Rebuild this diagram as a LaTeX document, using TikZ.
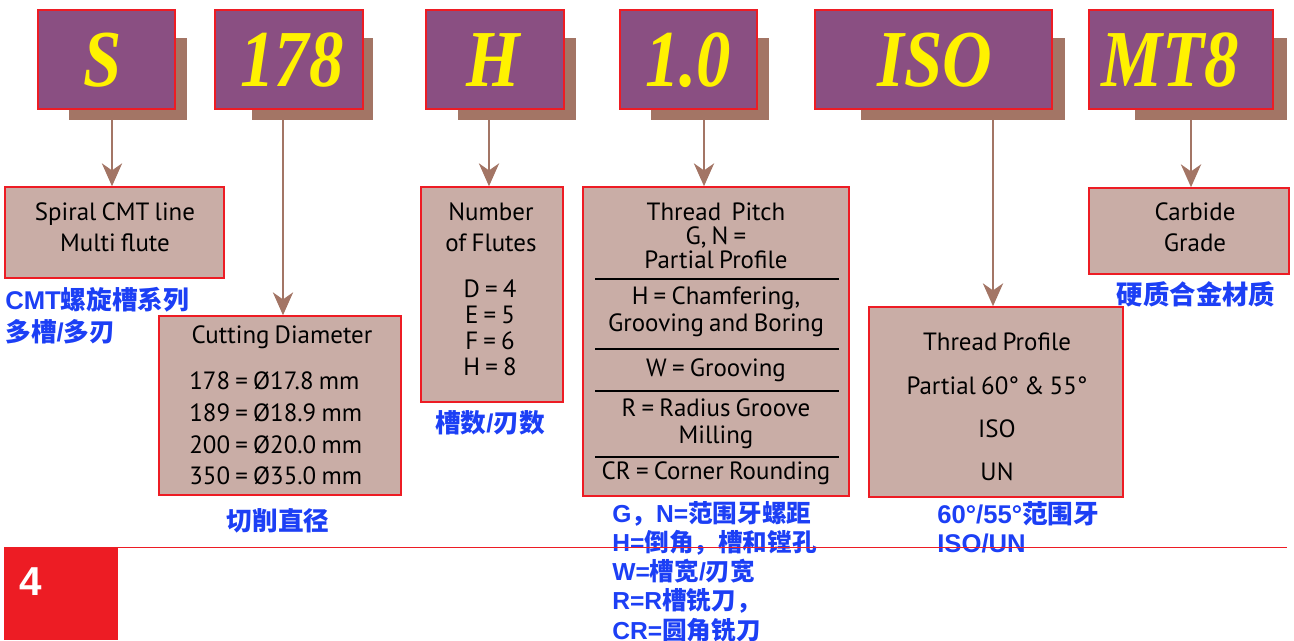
\documentclass[tikz,border=0pt]{standalone}
\usepackage{fontspec}
\setmainfont{PT Sans}[WordSpace=0.78]
\newfontfamily\codefont{Liberation Serif}[FakeStretch=0.85]
\newfontfamily\hvfont{Liberation Sans}
\newfontfamily\cjk{Noto Sans CJK SC}
\usetikzlibrary{arrows.meta,fit}

\definecolor{codepurple}{RGB}{138,79,130}
\definecolor{codeyellow}{RGB}{255,242,0}
\definecolor{shadowbrown}{RGB}{163,117,101}
\definecolor{infofill}{RGB}{201,173,166}
\definecolor{boxred}{RGB}{237,28,36}
\definecolor{noteblue}{RGB}{28,63,245}

\newcommand{\zh}[1]{{\cjk\bfseries #1}}

\tikzset{
  codebox/.style={draw=boxred, fill=codepurple, line width=0.9pt, inner sep=0pt},
  codeshadow/.style={fill=shadowbrown, inner sep=0pt},
  codetext/.style={text=codeyellow, inner sep=0pt,
    font=\codefont\bfseries\itshape\fontsize{46}{46}\selectfont},
  infobox/.style={draw=boxred, fill=infofill, line width=0.9pt, inner sep=0pt},
  infotext/.style={align=center, inner sep=0pt, font=\fontsize{14.2}{17.6}\selectfont},
  zhnote/.style={text=noteblue, align=left, inner sep=0pt,
    font=\hvfont\bfseries\fontsize{14.6}{16.6}\selectfont},
  conn/.style={draw=shadowbrown, line width=1.3pt,
    -{Stealth[length=13pt,width=11.5pt,inset=4pt]}},
  sepline/.style={draw=black, line width=0.6pt}
}

\begin{document}
\begin{tikzpicture}[x=0.02cm, y=-0.02cm]
  \useasboundingbox (0,0) rectangle (1294,640);

  % code boxes with their shadows
  \node[codeshadow, fit={(69,38) (187,120)}] (shS) {};
  \node[codebox, fit={(38,10) (175,109)}] (bS) {};
  \node[codetext] (tS) at (103,60) {S};

  \node[codeshadow, fit={(252,38) (373,120)}] (sh178) {};
  \node[codebox, fit={(215,10) (363,109)}] (b178) {};
  \node[codetext] (t178) at (292,60) {178};

  \node[codeshadow, fit={(458,38) (576,120)}] (shH) {};
  \node[codebox, fit={(426,10) (564,109)}] (bH) {};
  \node[codetext] (tH) at (493,60) {H};

  \node[codeshadow, fit={(651,38) (769,120)}] (sh10) {};
  \node[codebox, fit={(620,10) (757,109)}] (b10) {};
  \node[codetext] (t10) at (688,60) {1.0};

  \node[codeshadow, fit={(861,38) (1065,120)}] (shISO) {};
  \node[codebox, fit={(815,10) (1052,109)}] (bISO) {};
  \node[codetext] (tISO) at (935,60) {ISO};

  \node[codeshadow, fit={(1135,38) (1287,120)}] (shMT) {};
  \node[codebox, fit={(1089,10) (1273,109)}] (bMT) {};
  \node[codetext] (tMT) at (1170,60) {MT8};

  % description boxes
  \node[infobox, fit={(5,187) (224,278)}] (spiral) {};
  \node[infotext] (tspiral) at (115,227.5) {Spiral CMT line\\Multi flute};

  \node[infobox, fit={(159,316) (401,495)}] (diam) {};
  \node[infotext] (tdiam) at (282,337) {Cutting Diameter};
  \node[infotext, align=left, anchor=west, font=\fontsize{14.2}{18}\selectfont]
    (ldiam) at (189,428.5)
    {178 = Ø17.8 mm\\189 = Ø18.9 mm\\200 = Ø20.0 mm\\350 = Ø35.0 mm};

  \node[infobox, fit={(421,187) (563,402)}] (flutes) {};
  \node[infotext] (tflutes) at (491,227.5) {Number\\of Flutes};
  \node[infotext, font=\fontsize{14.2}{14.8}\selectfont] (lflutes) at (490,327.5)
    {D = 4\\E = 5\\F = 6\\H = 8};

  \node[infobox, fit={(583,187) (849,496)}] (pitch) {};
  \node[infotext, font=\fontsize{14.2}{13.7}\selectfont] (pitch1) at (716,236)
    {Thread~~Pitch\\G, N =\\Partial Profile};
  \node[infotext, font=\fontsize{14.2}{15.4}\selectfont] (pitch2) at (716,311.5)
    {H = Chamfering,\\Grooving and Boring};
  \node[infotext] (pitch3) at (716,370) {W = Grooving};
  \node[infotext, font=\fontsize{14.2}{15.4}\selectfont] (pitch4) at (716,423.5)
    {R = Radius Groove\\Milling};
  \node[infotext] (pitch5) at (716,473) {CR = Corner Rounding};
  \foreach \y in {279,349,391,457}
    \draw[sepline] (595,\y) -- (839,\y);

  \node[infobox, fit={(869,307) (1123,497)}] (profile) {};
  \node[infotext, font=\fontsize{14.2}{24.6}\selectfont] (tprofile) at (997,407)
    {Thread Profile\\Partial 60° \& 55°\\ISO\\UN};

  \node[infobox, fit={(1089,188) (1289,274)}] (carbide) {};
  \node[infotext] (tcarbide) at (1195,227.5) {Carbide\\Grade};

  % connectors
  \coordinate (aS) at (112,120);
  \coordinate (a178) at (283,120);
  \coordinate (aH) at (489,120);
  \coordinate (a10) at (704,120);
  \coordinate (aISO) at (993,120);
  \coordinate (aMT) at (1191,120);
  \draw[conn] (aS) -- (aS |- spiral.north);
  \draw[conn] (a178) -- (a178 |- diam.north);
  \draw[conn] (aH) -- (aH |- flutes.north);
  \draw[conn] (a10) -- (a10 |- pitch.north);
  \draw[conn] (aISO) -- (aISO |- profile.north);
  \draw[conn] (aMT) -- (aMT |- carbide.north);

  % chinese notes
  \node[zhnote, anchor=west, font=\hvfont\bfseries\fontsize{14.6}{18.2}\selectfont]
    (nspiral) at (5,315.5) {CMT\zh{螺旋槽系列}\\\zh{多槽}/\zh{多刃}};
  \node[zhnote] (ndiam) at (278,521) {\zh{切削直径}};
  \node[zhnote] (nflutes) at (490,423) {\zh{槽数}/\zh{刃数}};
  \node[zhnote, anchor=west, font=\hvfont\bfseries\fontsize{14}{16.6}\selectfont]
    (npitch) at (612,571.5)
    {G\zh{，}N=\zh{范围牙螺距}\\H=\zh{倒角，槽和镗孔}\\W=\zh{槽宽}/\zh{刃宽}\\R=R\zh{槽铣刀，}\\CR=\zh{圆角铣刀}};
  \node[zhnote, anchor=west] (nprofile) at (937,527.5)
    {60°/55°\zh{范围牙}\\ISO/UN};
  \node[zhnote, font=\hvfont\bfseries\fontsize{15}{16.6}\selectfont]
    (ncarbide) at (1196,294) {\zh{硬质合金材质}};

  % footer
  \fill[boxred] (4,547) rectangle (118,640);
  \draw[boxred, line width=1pt] (118,547.5) -- (1287,547.5);
  \node[text=white, inner sep=0pt, font=\hvfont\bfseries\fontsize{23}{23}\selectfont]
    (pagenum) at (31,582) {4};
\end{tikzpicture}
\end{document}
